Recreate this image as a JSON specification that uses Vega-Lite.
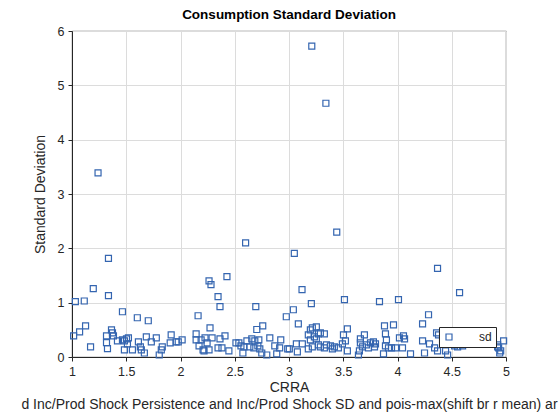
{
"$schema":"https://vega.github.io/schema/vega-lite/v6.json",
"width":434,"height":326,"autosize":"none",
"padding":{"left":72,"top":31,"right":54,"bottom":63},
"background":"white",
"config":{"font":"Liberation Sans","view":{"stroke":"#262626","strokeWidth":0.8},
"axis":{"gridColor":"#dcdcdc","domainColor":"#262626","tickColor":"#262626","labelColor":"#262626","titleColor":"#262626","labelFontSize":12.5,"titleFontSize":14,"titleFontWeight":"normal","labelFont":"Liberation Sans","titleFont":"Liberation Sans","tickSize":4,"labelPadding":4}},
"title":{"text":"Consumption Standard Deviation","fontSize":13.5,"fontWeight":"bold","font":"Liberation Sans","color":"black","offset":4},
"data":{"values":[
{"x":1.24,"y":3.39},{"x":2.6,"y":2.1},{"x":3.21,"y":5.72},{"x":3.34,"y":4.67},{"x":3.44,"y":2.3},
{"x":1.031,"y":1.019},{"x":1.113,"y":1.031},{"x":1.196,"y":1.259},{"x":1.336,"y":1.815},{"x":1.336,"y":1.13},{"x":1.465,"y":0.833},{"x":1.602,"y":0.722},{"x":1.703,"y":0.667},{"x":1.015,"y":0.389},{"x":1.07,"y":0.463},{"x":1.125,"y":0.574},{"x":1.171,"y":0.185},{"x":1.318,"y":0.389},{"x":1.318,"y":0.265},{"x":1.327,"y":0.154},{"x":1.364,"y":0.5},{"x":1.373,"y":0.444},{"x":1.382,"y":0.389},{"x":1.419,"y":0.296},{"x":1.465,"y":0.315},{"x":1.483,"y":0.296},{"x":1.502,"y":0.333},{"x":1.52,"y":0.352},{"x":1.483,"y":0.13},{"x":1.511,"y":0.241},{"x":1.557,"y":0.13},{"x":1.612,"y":0.278},{"x":1.63,"y":0.185},{"x":1.639,"y":0.13},{"x":1.667,"y":0.074},{"x":1.685,"y":0.37},{"x":1.731,"y":0.278},{"x":1.777,"y":0.352},{"x":1.804,"y":0.037},{"x":1.823,"y":0.13},{"x":1.832,"y":0.185},{"x":1.905,"y":0.259},{"x":1.914,"y":0.407},{"x":1.96,"y":0.278},{"x":1.979,"y":0.278},{"x":2.015,"y":0.315},{"x":2.144,"y":0.426},{"x":2.144,"y":0.315},{"x":2.171,"y":0.204},{"x":2.19,"y":0.315},{"x":2.208,"y":0.13},{"x":2.217,"y":0.111},{"x":2.226,"y":0.352},{"x":2.245,"y":0.259},{"x":2.263,"y":0.13},{"x":2.272,"y":0.537},{"x":2.291,"y":0.352},{"x":2.263,"y":1.401},{"x":2.281,"y":1.333},{"x":2.346,"y":1.111},{"x":2.364,"y":0.926},{"x":2.428,"y":1.481},{"x":2.364,"y":0.333},{"x":2.346,"y":0.167},{"x":2.382,"y":0.167},{"x":2.41,"y":0.389},{"x":2.446,"y":0.111},{"x":2.511,"y":0.259},{"x":2.162,"y":0.759},{"x":2.538,"y":0.259},{"x":2.557,"y":0.204},{"x":2.575,"y":0.074},{"x":2.584,"y":0.185},{"x":2.612,"y":0.296},{"x":2.639,"y":0.185},{"x":2.657,"y":0.333},{"x":2.676,"y":0.167},{"x":2.685,"y":0.296},{"x":2.703,"y":0.506},{"x":2.722,"y":0.315},{"x":2.713,"y":0.204},{"x":2.731,"y":0.148},{"x":2.758,"y":0.574},{"x":2.749,"y":0.074},{"x":2.795,"y":0.037},{"x":2.823,"y":0.352},{"x":2.869,"y":0.204},{"x":2.887,"y":0.056},{"x":2.924,"y":0.315},{"x":2.914,"y":0.167},{"x":2.988,"y":0.148},{"x":2.694,"y":0.926},
{"x":3.049,"y":1.907},{"x":3.12,"y":1.241},{"x":3.206,"y":0.981},{"x":3.511,"y":1.056},{"x":3.834,"y":1.019},{"x":4.009,"y":1.056},{"x":4.369,"y":1.63},{"x":4.572,"y":1.185},{"x":3.04,"y":0.87},{"x":2.975,"y":0.741},{"x":3.086,"y":0.611},{"x":4.286,"y":0.778},{"x":4.231,"y":0.611},{"x":3.003,"y":0.148},{"x":3.077,"y":0.093},{"x":3.068,"y":0.241},{"x":3.123,"y":0.241},{"x":3.178,"y":0.407},{"x":3.197,"y":0.5},{"x":3.215,"y":0.537},{"x":3.252,"y":0.556},{"x":3.271,"y":0.426},{"x":3.234,"y":0.37},{"x":3.289,"y":0.444},{"x":3.326,"y":0.426},{"x":3.197,"y":0.315},{"x":3.252,"y":0.333},{"x":3.178,"y":0.148},{"x":3.215,"y":0.185},{"x":3.271,"y":0.222},{"x":3.289,"y":0.185},{"x":3.326,"y":0.167},{"x":3.345,"y":0.222},{"x":3.382,"y":0.204},{"x":3.4,"y":0.148},{"x":3.418,"y":0.185},{"x":3.455,"y":0.167},{"x":3.502,"y":0.407},{"x":3.538,"y":0.519},{"x":3.52,"y":0.296},{"x":3.538,"y":0.111},{"x":3.492,"y":0.241},{"x":3.658,"y":0.333},{"x":3.695,"y":0.407},{"x":3.658,"y":0.259},{"x":3.649,"y":0.111},{"x":3.64,"y":0.037},{"x":3.677,"y":0.185},{"x":3.714,"y":0.222},{"x":3.751,"y":0.259},{"x":3.778,"y":0.278},{"x":3.797,"y":0.241},{"x":3.788,"y":0.185},{"x":3.732,"y":0.167},{"x":3.889,"y":0.426},{"x":3.88,"y":0.574},{"x":3.963,"y":0.593},{"x":3.898,"y":0.315},{"x":3.889,"y":0.204},{"x":3.917,"y":0.167},{"x":3.945,"y":0.167},{"x":3.982,"y":0.167},{"x":4.018,"y":0.352},{"x":4.055,"y":0.389},{"x":4.065,"y":0.333},{"x":4.046,"y":0.167},{"x":3.871,"y":0.056},{"x":4.12,"y":0.056},{"x":4.231,"y":0.296},{"x":4.249,"y":0.074},{"x":4.295,"y":0.241},{"x":4.342,"y":0.167},{"x":4.36,"y":0.444},{"x":4.378,"y":0.407},{"x":4.415,"y":0.315},{"x":4.369,"y":0.111},{"x":4.443,"y":0.111},{"x":4.462,"y":0.037},{"x":4.498,"y":0.481},{"x":4.535,"y":0.37},{"x":4.554,"y":0.333},{"x":4.526,"y":0.204},{"x":4.554,"y":0.185},{"x":4.618,"y":0.259},{"x":4.637,"y":0.481},{"x":4.711,"y":0.444},{"x":4.775,"y":0.481},{"x":4.711,"y":0.241},{"x":4.766,"y":0.296},{"x":4.6,"y":0.204},{"x":4.923,"y":0.222},{"x":4.932,"y":0.167},{"x":4.951,"y":0.111},{"x":4.978,"y":0.296},{"x":4.942,"y":0.074},{"x":4.923,"y":0.185}
]},
"mark":{"type":"point","shape":"square","filled":false,"size":36,"strokeWidth":1.2,"opacity":1},
"encoding":{
"x":{"field":"x","type":"quantitative","scale":{"domain":[1,5],"nice":false},"axis":{"values":[1,1.5,2,2.5,3,3.5,4,4.5,5],"format":"~g","title":["CRRA","d Inc/Prod Shock Persistence and Inc/Prod Shock SD and pois-max(shift br r mean) ar"],"titlePadding":3,"titleLineHeight":17,"labelFlush":false}},
"y":{"field":"y","type":"quantitative","scale":{"domain":[0,6],"nice":false},"axis":{"values":[0,1,2,3,4,5,6],"format":"~g","title":"Standard Deviation","titlePadding":10}},
"color":{"datum":"sd","type":"nominal","scale":{"range":["#3465b0"]},"legend":{"title":null,"orient":"bottom-right","offset":10,"strokeColor":"#262626","fillColor":"white","padding":4,"labelFontSize":12,"labelColor":"#262626","labelOffset":24,"symbolType":"square","symbolFillColor":"transparent","symbolStrokeWidth":1.2,"symbolSize":36}}
}
}
